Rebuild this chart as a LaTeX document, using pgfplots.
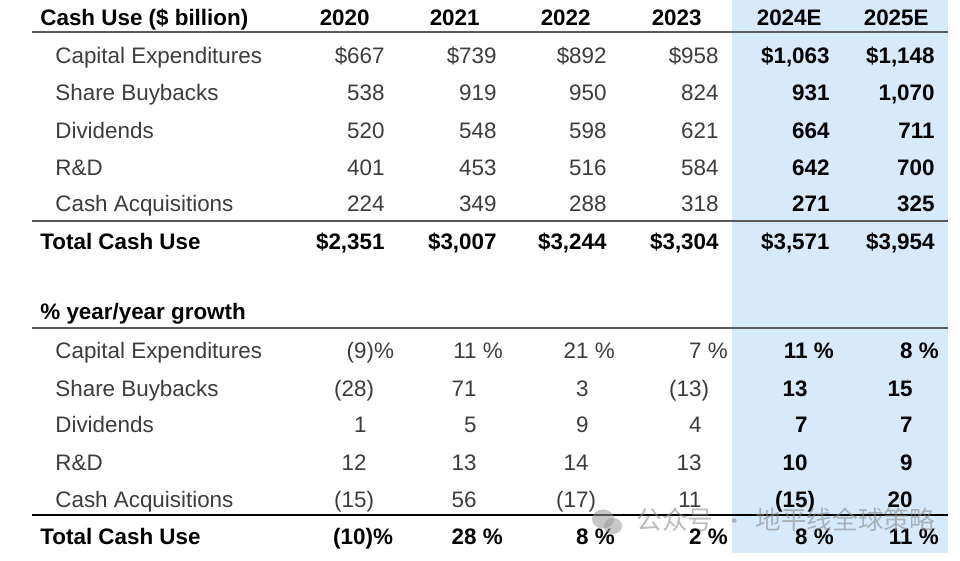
\documentclass[border=0pt]{standalone}
\usepackage{pgfplots}
\pgfplotsset{compat=1.18}
\usepackage{fontspec}
\setmainfont{Liberation Sans}
\newfontfamily\cjk{Noto Sans CJK SC}
\definecolor{txt}{RGB}{60,60,60}
\definecolor{rule}{RGB}{90,90,90}
\definecolor{hl}{RGB}{214,234,252}
\newcommand{\fs}{\fontsize{11.2}{13}\selectfont}
\tikzset{
  n/.style={anchor=base east, inner sep=0pt, text=txt, font=\fs},
  b/.style={anchor=base east, inner sep=0pt, text=black, font=\fs\bfseries},
  ln/.style={anchor=base west, inner sep=0pt, text=txt, font=\fs},
  lb/.style={anchor=base west, inner sep=0pt, text=black, font=\fs\bfseries},
}
\newcommand{\pc}{\rlap{ \%}}
\newcommand{\rp}{\rlap{)}}
\newcommand{\rpp}{\rlap{)\%}}
\begin{document}
\begin{tikzpicture}
\begin{axis}[
  scale only axis, width=480pt, height=280.5pt,
  xmin=0, xmax=960, ymin=0, ymax=561, y dir=reverse,
  axis lines=none, clip=false,
]
% full picture frame (invisible) so the page is the whole table area
\path (axis cs:0,0) rectangle (axis cs:960,561);
% highlighted forecast columns
\addplot[fill=hl, draw=none] coordinates {(732,0) (948,0) (948,553) (732,553)} -- cycle;
% rules
\draw[rule, line width=1pt] (axis cs:32,32) -- (axis cs:948,32);
\draw[rule, line width=1pt] (axis cs:32,221) -- (axis cs:948,221);
\draw[rule, line width=1pt] (axis cs:32,328) -- (axis cs:948,328);
\draw[black, line width=1.4pt] (axis cs:32,515) -- (axis cs:948,515);
% header
\node[lb] at (axis cs:40,26) {Cash Use (\$ billion)};
\node[b] at (axis cs:370,26) {2020};
\node[b] at (axis cs:480,26) {2021};
\node[b] at (axis cs:591,26) {2022};
\node[b] at (axis cs:702,26) {2023};
\node[b] at (axis cs:822,26) {2024E};
\node[b] at (axis cs:929,26) {2025E};
% top block labels
\node[ln] at (axis cs:55,64) {Capital Expenditures};
\node[ln] at (axis cs:55,101) {Share Buybacks};
\node[ln] at (axis cs:55,139) {Dividends};
\node[ln] at (axis cs:55,176) {R\&D};
\node[ln] at (axis cs:55,212) {Cash Acquisitions};
\node[lb] at (axis cs:40,250) {Total Cash Use};
% 2020
\node[n] at (axis cs:385,64) {\$667};
\node[n] at (axis cs:385,101) {538};
\node[n] at (axis cs:385,139) {520};
\node[n] at (axis cs:385,176) {401};
\node[n] at (axis cs:385,212) {224};
\node[b] at (axis cs:385,250) {\$2,351};
% 2021
\node[n] at (axis cs:497,64) {\$739};
\node[n] at (axis cs:497,101) {919};
\node[n] at (axis cs:497,139) {548};
\node[n] at (axis cs:497,176) {453};
\node[n] at (axis cs:497,212) {349};
\node[b] at (axis cs:497,250) {\$3,007};
% 2022
\node[n] at (axis cs:607,64) {\$892};
\node[n] at (axis cs:607,101) {950};
\node[n] at (axis cs:607,139) {598};
\node[n] at (axis cs:607,176) {516};
\node[n] at (axis cs:607,212) {288};
\node[b] at (axis cs:607,250) {\$3,244};
% 2023
\node[n] at (axis cs:719,64) {\$958};
\node[n] at (axis cs:719,101) {824};
\node[n] at (axis cs:719,139) {621};
\node[n] at (axis cs:719,176) {584};
\node[n] at (axis cs:719,212) {318};
\node[b] at (axis cs:719,250) {\$3,304};
% 2024E
\node[b] at (axis cs:830,64) {\$1,063};
\node[b] at (axis cs:830,101) {931};
\node[b] at (axis cs:830,139) {664};
\node[b] at (axis cs:830,176) {642};
\node[b] at (axis cs:830,212) {271};
\node[b] at (axis cs:830,250) {\$3,571};
% 2025E
\node[b] at (axis cs:935,64) {\$1,148};
\node[b] at (axis cs:935,101) {1,070};
\node[b] at (axis cs:935,139) {711};
\node[b] at (axis cs:935,176) {700};
\node[b] at (axis cs:935,212) {325};
\node[b] at (axis cs:935,250) {\$3,954};
% growth block labels
\node[lb] at (axis cs:40,320) {\% year/year growth};
\node[ln] at (axis cs:55,359) {Capital Expenditures};
\node[ln] at (axis cs:55,397) {Share Buybacks};
\node[ln] at (axis cs:55,433) {Dividends};
\node[ln] at (axis cs:55,471) {R\&D};
\node[ln] at (axis cs:55,508) {Cash Acquisitions};
\node[lb] at (axis cs:40,545) {Total Cash Use};
% 2020 growth
\node[n] at (axis cs:367,359) {(9\rpp};
\node[n] at (axis cs:367,397) {(28\rp};
\node[n] at (axis cs:367,433) {1};
\node[n] at (axis cs:367,471) {12};
\node[n] at (axis cs:367,508) {(15\rp};
\node[b] at (axis cs:366,545) {(10\rpp};
% 2021 growth
\node[n] at (axis cs:477,359) {11\pc};
\node[n] at (axis cs:477,397) {71};
\node[n] at (axis cs:477,433) {5};
\node[n] at (axis cs:477,471) {13};
\node[n] at (axis cs:477,508) {56};
\node[b] at (axis cs:477,545) {28\pc};
% 2022 growth
\node[n] at (axis cs:589,359) {21\pc};
\node[n] at (axis cs:589,397) {3};
\node[n] at (axis cs:589,433) {9};
\node[n] at (axis cs:589,471) {14};
\node[n] at (axis cs:589,508) {(17\rp};
\node[b] at (axis cs:589,545) {8\pc};
% 2023 growth
\node[n] at (axis cs:702,359) {7\pc};
\node[n] at (axis cs:702,397) {(13\rp};
\node[n] at (axis cs:702,433) {4};
\node[n] at (axis cs:702,471) {13};
\node[n] at (axis cs:702,508) {11};
\node[b] at (axis cs:702,545) {2\pc};
% 2024E growth
\node[b] at (axis cs:808,359) {11\pc};
\node[b] at (axis cs:808,397) {13};
\node[b] at (axis cs:808,433) {7};
\node[b] at (axis cs:808,471) {10};
\node[b] at (axis cs:808,508) {(15\rp};
\node[b] at (axis cs:808,545) {8\pc};
% 2025E growth
\node[b] at (axis cs:913,359) {8\pc};
\node[b] at (axis cs:913,397) {15};
\node[b] at (axis cs:913,433) {7};
\node[b] at (axis cs:913,471) {9};
\node[b] at (axis cs:913,508) {20};
\node[b] at (axis cs:913,545) {11\pc};
% watermark
\fill[black!40, opacity=0.55] (axis cs:603,519) ellipse [x radius=5.5pt, y radius=4.8pt];
\fill[black!40, opacity=0.55] (axis cs:613,526) ellipse [x radius=4.6pt, y radius=4pt];
\node[anchor=base west, inner sep=0pt, text=black!45, opacity=0.6,
      font=\cjk\fontsize{12.8}{14}\selectfont] at (axis cs:636,530) {公众号{\fs\ \ ·\ \ }地平线全球策略};
\end{axis}
\end{tikzpicture}
\end{document}
